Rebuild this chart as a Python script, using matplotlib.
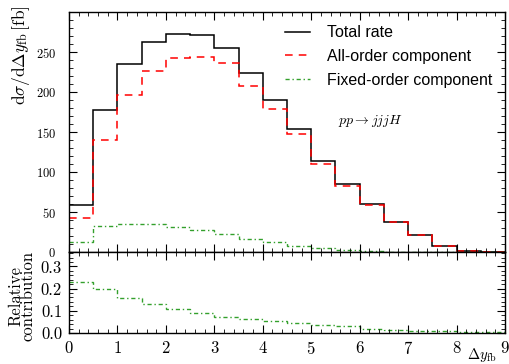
import numpy as np
import matplotlib
matplotlib.use('Agg')
import matplotlib.pyplot as plt
from matplotlib.ticker import MultipleLocator

# bin edges in Delta y_fb
edges = np.arange(0, 9.5, 0.5)

# values per bin
total_rate = [59, 177, 235, 262, 273, 271, 255, 224, 190, 154,
              114, 85, 60, 37, 21, 8, 1.7, 0.3]
all_order = [43, 140, 196, 226, 242, 244, 236, 208, 179, 147,
             110, 83, 59, 37, 21, 8, 1.6, 0.3]
fixed_order = [12, 33, 35, 35, 31, 27, 22, 16, 12, 7,
               4.5, 2.5, 1.3, 0.6, 0.3, 0.1, 0.02, 0.0]
relative = [0.232, 0.197, 0.156, 0.129, 0.106, 0.090, 0.071, 0.062, 0.052, 0.044,
            0.038, 0.030, 0.020, 0.015, 0.010, 0.008, 0.005, 0.003]

plt.rcParams['font.family'] = 'cmr10'
plt.rcParams['mathtext.fontset'] = 'cm'
plt.rcParams['axes.formatter.use_mathtext'] = True

fig = plt.figure(figsize=(5.10, 3.64), dpi=100)
ax = fig.add_axes([69/510, 1 - 252/364, 436/510, 240/364])
ax2 = fig.add_axes([69/510, 1 - 333/364, 436/510, 81/364])


def stairs(a, vals, **kw):
    return a.stairs(vals, edges, baseline=None, **kw)


stairs(ax, total_rate, color='black', lw=1.1, label='Total rate')
stairs(ax, all_order, color='red', lw=1.1, ls=(0, (5, 4)), label='All-order component')
stairs(ax, fixed_order, color='#33a02c', lw=1.0, ls=(0, (3, 2, 1, 2)),
       label='Fixed-order component')
stairs(ax2, relative, color='#33a02c', lw=1.0, ls=(0, (3, 2, 1, 2)))

ax.set_xlim(0, 9)
ax.set_ylim(0, 300)
ax2.set_xlim(0, 9)
ax2.set_ylim(0, 0.365)

for a in (ax, ax2):
    a.tick_params(which='both', direction='in', top=True, right=True)
    a.tick_params(which='major', length=6, width=0.8)
    a.tick_params(which='minor', length=3, width=0.6)
    a.xaxis.set_major_locator(MultipleLocator(1))
    a.xaxis.set_minor_locator(MultipleLocator(0.2))
    for s in a.spines.values():
        s.set_linewidth(1.0)

ax.tick_params(labelsize=9, labelbottom=False)
ax.tick_params(axis='y', pad=9.5)
ax2.tick_params(labelsize=12, pad=5)

ax.yaxis.set_major_locator(MultipleLocator(50))
ax.yaxis.set_minor_locator(MultipleLocator(10))
ax.set_yticks([0, 50, 100, 150, 200, 250])
ax2.yaxis.set_major_locator(MultipleLocator(0.1))
ax2.yaxis.set_minor_locator(MultipleLocator(0.02))
ax2.set_yticks([0.0, 0.1, 0.2, 0.3])
ax2.set_yticklabels(['0.0', '0.1', '0.2', '0.3'])

ax.set_ylabel(r'$\mathrm{d}\sigma/\mathrm{d}\Delta y_{\mathrm{fb}}\,[\mathrm{fb}]$', fontsize=12.5)
ax2.set_ylabel('Relative\ncontribution', fontsize=12, linespacing=0.8)
ax.yaxis.set_label_coords(-0.085, 0.82)
ax2.yaxis.set_label_coords(-0.076, 0.46)

ax2.text(0.982, -0.165, r'$\Delta y_{\mathrm{fb}}$', transform=ax2.transAxes,
         ha='right', va='top', fontsize=10.5)

ax.text(5.55, 160, r'$pp \rightarrow jjjH$', fontsize=10)

leg = ax.legend(loc='upper left', bbox_to_anchor=(0.495, 0.945), frameon=False,
                handlelength=1.6, handletextpad=1.05, borderpad=0, borderaxespad=0,
                prop={'family': 'Liberation Sans', 'size': 11.5},
                labelspacing=0.55)

fig.savefig('out.png', dpi=100)
